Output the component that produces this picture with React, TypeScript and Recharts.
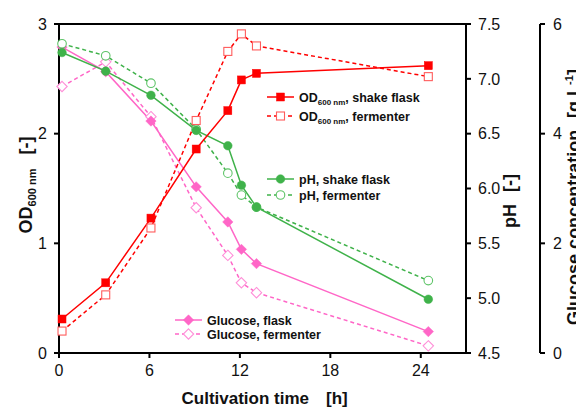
import { ComposedChart, Line, XAxis, YAxis, ReferenceLine } from 'recharts';

// Sampling times [h]
const hours = [0.2, 3.1, 6.1, 9.1, 11.2, 12.1, 13.1, 24.5];

// OD600 [-]
const odFlask = [0.31, 0.64, 1.23, 1.86, 2.21, 2.49, 2.55, 2.62];
const odFermenter = [0.2, 0.53, 1.14, 2.12, 2.75, 2.91, 2.8, 2.52];

// pH [-]
const phFlask = [7.24, 7.07, 6.85, 6.53, 6.39, 6.03, 5.83, 4.99];
const phFermenter = [7.32, 7.21, 6.96, 6.54, 6.14, 5.94, 5.83, 5.16];

// Glucose [g/L]
const glucoseFlask = [5.58, 5.13, 4.23, 3.03, 2.39, 1.89, 1.63, 0.39];
const glucoseFermenter = [4.86, 5.31, 4.31, 2.65, 1.78, 1.28, 1.1, 0.13];

const timeTicks = [0, 6, 12, 18, 24];
const odTicks = [0, 1, 2, 3];
const phTicks = [4.5, 5, 5.5, 6, 6.5, 7, 7.5];
const glucoseTicks = [0, 2, 4, 6];

const data = hours.map((t, i) => ({
  t,
  odFlask: odFlask[i],
  odFermenter: odFermenter[i],
  phFlask: phFlask[i],
  phFermenter: phFermenter[i],
  glucoseFlask: glucoseFlask[i],
  glucoseFermenter: glucoseFermenter[i],
}));

// right-hand axes are stacked in id order: pH next to the plot, glucose outside
const OD_AXIS = 0;
const PH_AXIS = 1;
const GLUCOSE_AXIS = 2;

const RED = '#ff0000';
const RED_LIGHT = '#ff5c5c';
const GREEN = '#3fb24a';
const GREEN_LIGHT = '#5ec468';
const PINK = '#ff66c7';
const PINK_LIGHT = '#ff8fd8';

const FONT = 'Arial, "Liberation Sans", sans-serif';
const DASH = '4 3';

type Shape = 'square' | 'circle' | 'diamond';

function Marker({ shape, cx, cy, color, open }: { shape: Shape; cx: number; cy: number; color: string; open?: boolean }) {
  const fill = open ? '#fff' : color;
  const sw = open ? 1.1 : 0.5;
  if (shape === 'square') {
    return <rect x={cx - 4} y={cy - 4} width={8} height={8} fill={fill} stroke={color} strokeWidth={sw} />;
  }
  if (shape === 'circle') {
    return <circle cx={cx} cy={cy} r={4.3} fill={fill} stroke={color} strokeWidth={sw} />;
  }
  const r = 5.2;
  return (
    <polygon
      points={`${cx},${cy - r} ${cx + r},${cy} ${cx},${cy + r} ${cx - r},${cy}`}
      fill={fill}
      stroke={color}
      strokeWidth={sw}
    />
  );
}

const dotOf = (shape: Shape, color: string, open?: boolean) => (p: any) =>
  <Marker key={`${shape}-${open ? 'o' : 'f'}-${p.index}`} shape={shape} cx={p.cx} cy={p.cy} color={color} open={open} />;

function LegendRow({ x, y, shape, color, lineColor, open, dashed, children }: any) {
  return (
    <g>
      <line x1={x} y1={y} x2={x + 27} y2={y} stroke={lineColor} strokeWidth={1.5} strokeDasharray={dashed ? DASH : undefined} />
      <Marker shape={shape} cx={x + 13.5} cy={y} color={color} open={open} />
      <text x={x + 32} y={y + 4.5} fontSize={12.5} fontWeight="bold" fill="#111">
        {children}
      </text>
    </g>
  );
}

const axisStroke = { stroke: '#000', strokeWidth: 2 };
const tickStyle = { fontSize: 16, fill: '#111', fontFamily: FONT };

export default function App() {
  return (
    <div style={{ position: 'relative', width: 576, height: 400, fontFamily: FONT }}>
      <ComposedChart width={576} height={400} data={data} margin={{ top: 16, right: 0, bottom: 0, left: 0 }}>
        <XAxis
          dataKey="t"
          type="number"
          domain={[0, 27]}
          ticks={timeTicks}
          height={55}
          axisLine={axisStroke}
          tickLine={axisStroke}
          tickSize={5}
          tickMargin={7}
          tick={tickStyle}
        />
        <YAxis
          yAxisId={OD_AXIS}
          domain={[0, 3]}
          ticks={odTicks}
          width={51}
          axisLine={axisStroke}
          tickLine={axisStroke}
          tickSize={5}
          tickMargin={7}
          tick={tickStyle}
        />
        <YAxis
          yAxisId={PH_AXIS}
          orientation="right"
          domain={[4.5, 7.5]}
          ticks={phTicks}
          width={74}
          tickFormatter={(v: number) => v.toFixed(1)}
          axisLine={axisStroke}
          tickLine={axisStroke}
          tickSize={5}
          tickMargin={7}
          tick={tickStyle}
        />
        <YAxis
          yAxisId={GLUCOSE_AXIS}
          orientation="right"
          domain={[0, 6]}
          ticks={glucoseTicks}
          width={44}
          axisLine={axisStroke}
          tickLine={axisStroke}
          tickSize={5}
          tickMargin={8}
          tick={tickStyle}
        />
        <ReferenceLine yAxisId={OD_AXIS} y={3} stroke="#000" strokeWidth={2} />

        <Line yAxisId={GLUCOSE_AXIS} dataKey="glucoseFermenter" stroke={PINK} strokeWidth={1.5} strokeDasharray={DASH}
          dot={dotOf('diamond', PINK_LIGHT, true)} isAnimationActive={false} />
        <Line yAxisId={GLUCOSE_AXIS} dataKey="glucoseFlask" stroke={PINK} strokeWidth={1.5}
          dot={dotOf('diamond', PINK)} isAnimationActive={false} />
        <Line yAxisId={PH_AXIS} dataKey="phFermenter" stroke={GREEN} strokeWidth={1.5} strokeDasharray={DASH}
          dot={dotOf('circle', GREEN_LIGHT, true)} isAnimationActive={false} />
        <Line yAxisId={PH_AXIS} dataKey="phFlask" stroke={GREEN} strokeWidth={1.5}
          dot={dotOf('circle', GREEN)} isAnimationActive={false} />
        <Line yAxisId={OD_AXIS} dataKey="odFermenter" stroke={RED} strokeWidth={1.5} strokeDasharray={DASH}
          dot={dotOf('square', RED_LIGHT, true)} isAnimationActive={false} />
        <Line yAxisId={OD_AXIS} dataKey="odFlask" stroke={RED} strokeWidth={1.5}
          dot={dotOf('square', RED)} isAnimationActive={false} />
      </ComposedChart>

      <svg width={576} height={400} style={{ position: 'absolute', left: 0, top: 0, pointerEvents: 'none', fontFamily: FONT }}>
        {/* axis titles */}
        <text x={173.5} y={396} fontSize={17} fontWeight="bold" fill="#111">
          Cultivation time<tspan dx={17}>[h]</tspan>
        </text>
        <text transform="translate(23.5,177) rotate(-90)" textAnchor="middle" fontSize={18} fontWeight="bold" fill="#111">
          OD<tspan fontSize={11} dy={4}>600 nm</tspan>
          <tspan dy={-4} dx={14}>[-]</tspan>
        </text>
        <text transform="translate(508,193) rotate(-90)" textAnchor="middle" fontSize={18} fontWeight="bold" fill="#111">
          pH<tspan dx={12}>[-]</tspan>
        </text>
        <text transform="translate(571.5,189) rotate(-90)" textAnchor="middle" fontSize={18} fontWeight="bold" fill="#111">
          Glucose concentration<tspan dx={12}>[g L</tspan>
          <tspan fontSize={11} dy={-7}>-1</tspan>
          <tspan dy={7}>]</tspan>
        </text>

        {/* legends */}
        <LegendRow x={259} y={89} shape="square" color={RED} lineColor={RED}>
          OD<tspan fontSize={8} dy={3}>600 nm</tspan><tspan dy={-3}>, shake flask</tspan>
        </LegendRow>
        <LegendRow x={259} y={108} shape="square" color={RED_LIGHT} lineColor={RED} open dashed>
          OD<tspan fontSize={8} dy={3}>600 nm</tspan><tspan dy={-3}>, fermenter</tspan>
        </LegendRow>
        <LegendRow x={259} y={171} shape="circle" color={GREEN} lineColor={GREEN}>
          pH, shake flask
        </LegendRow>
        <LegendRow x={259} y={187} shape="circle" color={GREEN_LIGHT} lineColor={GREEN} open dashed>
          pH, fermenter
        </LegendRow>
        <LegendRow x={167} y={312} shape="diamond" color={PINK} lineColor={PINK}>
          Glucose, flask
        </LegendRow>
        <LegendRow x={167} y={326} shape="diamond" color={PINK_LIGHT} lineColor={PINK} open dashed>
          Glucose, fermenter
        </LegendRow>
      </svg>
    </div>
  );
}
